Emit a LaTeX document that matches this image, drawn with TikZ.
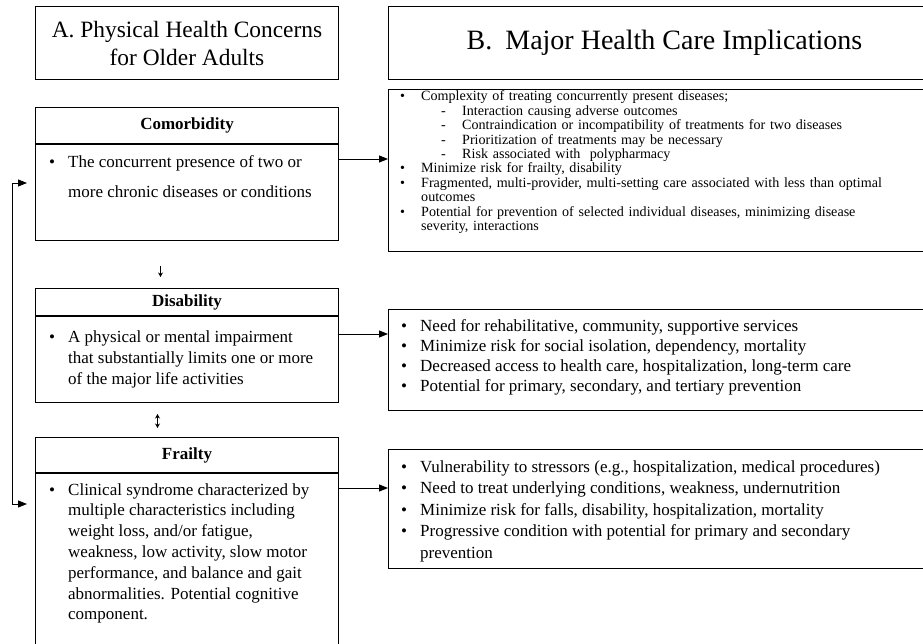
\documentclass[tikz,border=0pt]{standalone}
\usepackage{fontspec}
\setmainfont{Liberation Serif}
\usetikzlibrary{arrows.meta,positioning}
\newcommand{\hdrfont}{\fontsize{23.4}{28}\selectfont}
\newcommand{\ttlfont}{\fontsize{17}{20}\selectfont\bfseries}
\newcommand{\smlfont}{\fontsize{14.1}{14.4}\selectfont\lineskiplimit=-100pt}
\newcommand{\itm}{\makebox[21pt][l]{\textbullet}}
\newcommand{\subitm}{\hspace*{41pt}\makebox[21pt][l]{-}}
\newcommand{\ind}{\hspace*{21pt}}
\tikzset{
  box/.style={draw,line width=1pt,inner sep=0pt,anchor=north west},
  txt/.style={anchor=base west,inner sep=0pt,align=left},
  link/.style={line width=0.9pt,-{Triangle[length=9pt,width=7pt]}},
  dlink/.style={line width=0.9pt,{Triangle[length=9pt,width=7pt]}-{Triangle[length=9pt,width=7pt]}},
  hint/.style={line width=0.7pt,-{Stealth[length=4.5pt,width=5pt]}},
  dhint/.style={line width=0.7pt,{Stealth[length=4.5pt,width=5pt]}-{Stealth[length=4.5pt,width=5pt]}}
}
\begin{document}
\begin{tikzpicture}[x=1pt,y=-1pt]
\useasboundingbox (0,0) rectangle (923,644);
\clip (0,0) rectangle (923,644);
\node[box,minimum width=303pt,minimum height=73pt,align=center,font=\hdrfont] (hdrA) at (35,6) {A. Physical Health Concerns\\for Older Adults};
\node[box,minimum width=552pt,minimum height=73pt,font=\fontsize{28}{32}\selectfont] (hdrB) at (388,6) {B.\hspace{13pt}Major Health Care Implications};
\node[box,minimum width=303pt,minimum height=36pt,font=\ttlfont] (comttl) at (35,107) {Comorbidity};
\node[box,minimum width=303pt,minimum height=96pt,below=0pt of comttl] (combox) {};
\node[box,minimum width=303pt,minimum height=27pt,font=\ttlfont] (disttl) at (35,288) {Disability};
\node[box,minimum width=303pt,minimum height=86pt,below=0pt of disttl] (disbox) {};
\node[box,minimum width=303pt,minimum height=35pt,font=\ttlfont] (frattl) at (35,437) {Frailty};
\node[box,minimum width=303pt,minimum height=190pt,below=0pt of frattl] (frabox) {};
\node[txt,font=\fontsize{17}{30}\selectfont] (comtxt) at ([shift={(14,24)}]combox.north west)
  {\begin{tabular}[t]{@{}p{19pt}@{}l@{}}
  \textbullet & The concurrent presence of two or\\
  & more chronic diseases or conditions
  \end{tabular}};
\node[txt,font=\fontsize{17}{21}\selectfont] (distxt) at ([shift={(14,26)}]disbox.north west)
  {\begin{tabular}[t]{@{}p{19pt}@{}l@{}}
  \textbullet & A physical or mental impairment\\
  & that substantially limits one or more\\
  & of the major life activities
  \end{tabular}};
\node[txt,font=\fontsize{17}{20.8}\selectfont] (fratxt) at ([shift={(14,22)}]frabox.north west)
  {\begin{tabular}[t]{@{}p{19pt}@{}l@{}}
  \textbullet & Clinical syndrome characterized by\\
  & multiple characteristics including\\
  & weight loss, and/or fatigue,\\
  & weakness, low activity, slow motor\\
  & performance, and balance and gait\\
  & abnormalities.  Potential cognitive\\
  & component.
  \end{tabular}};
\node[box,minimum width=552pt,minimum height=162pt] (imp1) at (388,89) {};
\node[box,minimum width=552pt,minimum height=101pt] (imp2) at (388,309) {};
\node[box,minimum width=552pt,minimum height=119pt] (imp3) at (388,449) {};
\node[txt,text width=520pt,font=\smlfont] (imp1txt) at ([shift={(12,12)}]imp1.north west)
  {\itm Complexity of treating concurrently present diseases;\\
  \subitm Interaction causing adverse outcomes\\
  \subitm Contraindication or incompatibility of treatments for two diseases\\
  \subitm Prioritization of treatments may be necessary\\
  \subitm Risk associated with~ polypharmacy\\
  \itm Minimize risk for frailty, disability\\
  \itm Fragmented, multi-provider, multi-setting care associated with less than optimal\\
  \ind outcomes\\
  \itm Potential for prevention of selected individual diseases, minimizing disease\\
  \ind severity, interactions};
\node[txt,font=\fontsize{17}{20.3}\selectfont] (imp2txt) at ([shift={(13,22)}]imp2.north west)
  {\begin{tabular}[t]{@{}p{19pt}@{}l@{}}
  \textbullet & Need for rehabilitative, community, supportive services\\
  \textbullet & Minimize risk for social isolation, dependency, mortality\\
  \textbullet & Decreased access to health care, hospitalization, long-term care\\
  \textbullet & Potential for primary, secondary, and tertiary prevention
  \end{tabular}};
\node[txt,font=\fontsize{17}{21.5}\selectfont] (imp3txt) at ([shift={(13,23)}]imp3.north west)
  {\begin{tabular}[t]{@{}p{19pt}@{}l@{}}
  \textbullet & Vulnerability to stressors (e.g., hospitalization, medical procedures)\\
  \textbullet & Need to treat underlying conditions, weakness, undernutrition\\
  \textbullet & Minimize risk for falls, disability, hospitalization, mortality\\
  \textbullet & Progressive condition with potential for primary and secondary\\
  & prevention
  \end{tabular}};
\draw[link] ([yshift=-15pt]combox.north east) coordinate (c1) -- (c1 -| imp1.west);
\draw[link] ([yshift=-18pt]disbox.north east) coordinate (c2) -- (c2 -| imp2.west);
\draw[link] ([yshift=-15pt]frabox.north east) coordinate (c3) -- (c3 -| imp3.west);
\draw[dlink] ([shift={(-8,39)}]combox.north west) -- ++(-15,0) |- ([shift={(-8,31)}]frabox.north west);
\draw[hint,shorten <=25pt,shorten >=11pt] ([xshift=-26.5pt]combox.south) -- ([xshift=-26.5pt]disttl.north);
\draw[dhint,shorten <=11pt,shorten >=9pt] ([xshift=-29.5pt]disbox.south) -- ([xshift=-29.5pt]frattl.north);
\end{tikzpicture}
\end{document}
